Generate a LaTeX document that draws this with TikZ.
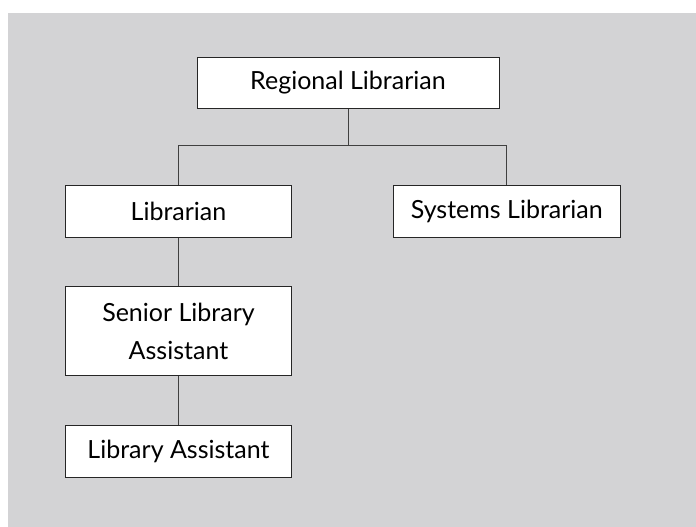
\documentclass[tikz,border=0pt]{standalone}
\usepackage{fontspec}
\setmainfont{Lato}
\begin{document}
\begin{tikzpicture}[x=1pt,y=-1pt,
  box/.style={draw=black!85, line width=1pt, fill=white, minimum height=51.5pt, inner sep=0pt, font=\fontsize{25}{38.7}\selectfont, align=center},
  link/.style={draw=black!75, line width=0.9pt}]
\useasboundingbox (0,0) rectangle (696,527);
\fill[white] (0,0) rectangle (696,527);
\fill[fill={rgb,255:red,211;green,211;blue,213}] (8,13) rectangle (696,527);
\node[box, minimum width=302pt] (reg) at (348,82.8) {Regional Librarian};
\node[box, minimum width=226.4pt, minimum height=52.3pt] (lib) at (178.5,211.2) {Librarian};
\node[box, minimum width=227pt, minimum height=52pt] (sys) at (506.8,211.3) {Systems Librarian};
\node[box, minimum width=226.4pt, minimum height=89.3pt] (sen) at (178.5,331.3) {Senior Library\\Assistant};
\node[box, minimum width=226.4pt, minimum height=52pt] (la) at (178.5,451.7) {Library Assistant};
\coordinate (bar) at (348,145.3);
\draw[link] (reg.south) -- (bar);
\draw[link] (lib.north) |- (bar) -| (sys.north);
\draw[link] (lib.south) -- (sen.north);
\draw[link] (sen.south) -- (la.north);
\end{tikzpicture}
\end{document}
